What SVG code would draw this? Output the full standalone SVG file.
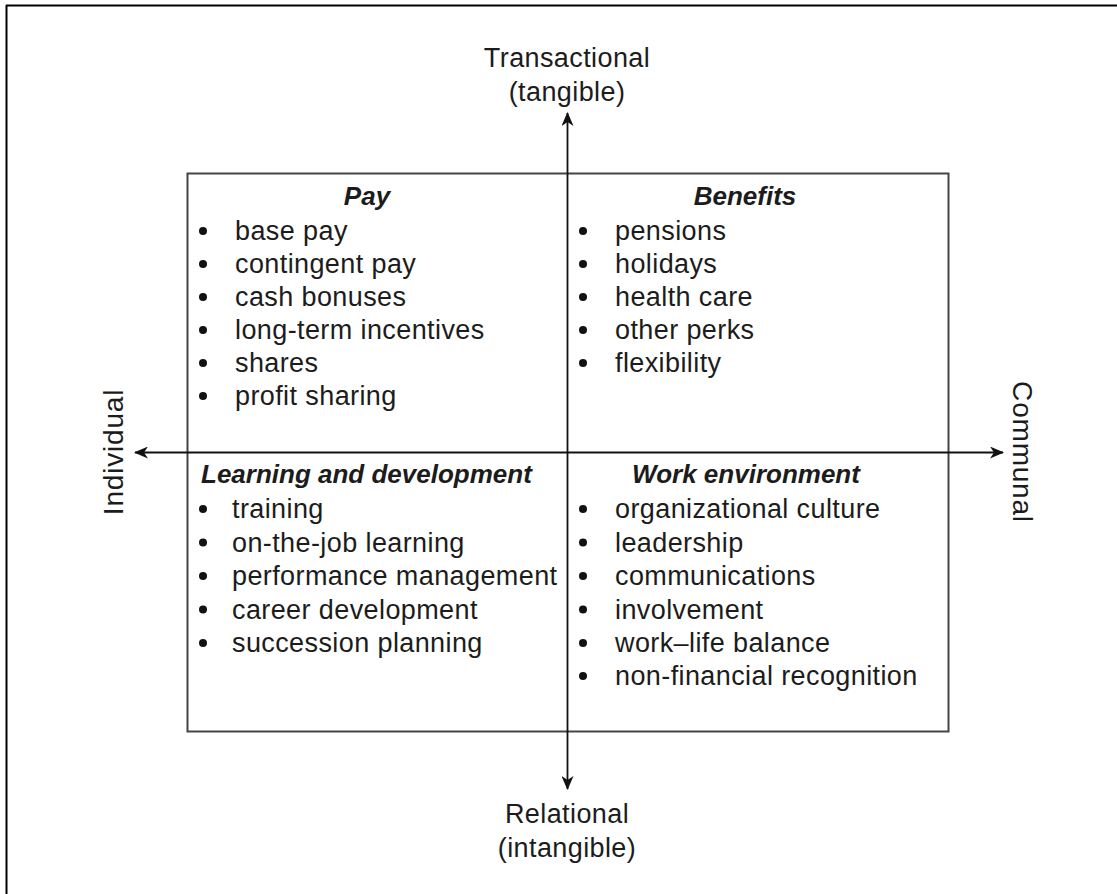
<svg xmlns="http://www.w3.org/2000/svg" width="1117" height="894" viewBox="0 0 1117 894">
<style>
  text { font-family: "Liberation Sans", Arial, sans-serif; fill: #1c1c1c; }
  .item { font-size: 27px; letter-spacing: 0.4px; }
  .title { font-size: 26px; font-weight: bold; font-style: italic; }
  .axis { font-size: 27px; letter-spacing: 0.4px; text-anchor: middle; }
  .axisv { font-size: 28px; letter-spacing: 0.8px; text-anchor: middle; }
  .bullet { fill: #111; }
  .conn { stroke: #111; stroke-width: 1.8; fill: none; }
</style>
<defs>
  <marker id="arr" viewBox="0 0 14 12" refX="13" refY="6" markerWidth="14" markerHeight="12" markerUnits="userSpaceOnUse" orient="auto">
    <path d="M0,0 L14,6 L0,12 L4,6 Z" fill="#111"/>
  </marker>
</defs>
<rect width="1117" height="894" fill="#fff"/>
<g id="frame">
  <line x1="6" y1="5.5" x2="1117" y2="5.5" stroke="#000" stroke-width="2"/>
  <line x1="6.5" y1="5" x2="6.5" y2="894" stroke="#000" stroke-width="2"/>
</g>
<g id="box">
  <rect x="187.5" y="173.5" width="761" height="558" fill="none" stroke="#444" stroke-width="2"/>
</g>
<g id="connectors">
  <line class="conn" x1="567.5" y1="452" x2="567.5" y2="113" marker-end="url(#arr)"/>
  <line class="conn" x1="567.5" y1="452" x2="567.5" y2="789" marker-end="url(#arr)"/>
  <line class="conn" x1="567.5" y1="452.5" x2="135" y2="452.5" marker-end="url(#arr)"/>
  <line class="conn" x1="567.5" y1="452.5" x2="1003" y2="452.5" marker-end="url(#arr)"/>
</g>
<g id="axis-top">
  <text class="axis" x="567" y="67">Transactional</text>
  <text class="axis" x="567" y="101">(tangible)</text>
</g>
<g id="axis-bottom">
  <text class="axis" x="567" y="823">Relational</text>
  <text class="axis" x="567" y="857">(intangible)</text>
</g>
<g id="axis-left">
  <text class="axisv" transform="translate(123,452) rotate(-90)">Individual</text>
</g>
<g id="axis-right">
  <text class="axisv" transform="translate(1013,452) rotate(90)">Communal</text>
</g>
<g id="pay">
  <text class="title" x="367" y="205" text-anchor="middle">Pay</text>
  <g class="bullet">
    <circle cx="203" cy="231" r="4"/><circle cx="203" cy="264" r="4"/><circle cx="203" cy="297" r="4"/>
    <circle cx="203" cy="330" r="4"/><circle cx="203" cy="363" r="4"/><circle cx="203" cy="396" r="4"/>
  </g>
  <text class="item" x="235" y="240">base pay</text>
  <text class="item" x="235" y="273">contingent pay</text>
  <text class="item" x="235" y="306">cash bonuses</text>
  <text class="item" x="235" y="339">long-term incentives</text>
  <text class="item" x="235" y="372">shares</text>
  <text class="item" x="235" y="405">profit sharing</text>
</g>
<g id="benefits">
  <text class="title" x="745" y="205" text-anchor="middle">Benefits</text>
  <g class="bullet">
    <circle cx="583" cy="231" r="4"/><circle cx="583" cy="264" r="4"/><circle cx="583" cy="297" r="4"/>
    <circle cx="583" cy="330" r="4"/><circle cx="583" cy="363" r="4"/>
  </g>
  <text class="item" x="615" y="240">pensions</text>
  <text class="item" x="615" y="273">holidays</text>
  <text class="item" x="615" y="306">health care</text>
  <text class="item" x="615" y="339">other perks</text>
  <text class="item" x="615" y="372">flexibility</text>
</g>
<g id="learning">
  <text class="title" x="201" y="483">Learning and development</text>
  <g class="bullet">
    <circle cx="203" cy="509" r="4"/><circle cx="203" cy="542.5" r="4"/><circle cx="203" cy="576" r="4"/>
    <circle cx="203" cy="609.5" r="4"/><circle cx="203" cy="643" r="4"/>
  </g>
  <text class="item" x="232" y="518">training</text>
  <text class="item" x="232" y="551.5">on-the-job learning</text>
  <text class="item" x="232" y="585">performance management</text>
  <text class="item" x="232" y="618.5">career development</text>
  <text class="item" x="232" y="652">succession planning</text>
</g>
<g id="work">
  <text class="title" x="746" y="483" text-anchor="middle">Work environment</text>
  <g class="bullet">
    <circle cx="583" cy="509" r="4"/><circle cx="583" cy="542.5" r="4"/><circle cx="583" cy="576" r="4"/>
    <circle cx="583" cy="609.5" r="4"/><circle cx="583" cy="643" r="4"/><circle cx="583" cy="676" r="4"/>
  </g>
  <text class="item" x="615" y="518">organizational culture</text>
  <text class="item" x="615" y="551.5">leadership</text>
  <text class="item" x="615" y="585">communications</text>
  <text class="item" x="615" y="618.5">involvement</text>
  <text class="item" x="615" y="652">work–life balance</text>
  <text class="item" x="615" y="685">non-financial recognition</text>
</g>
</svg>
